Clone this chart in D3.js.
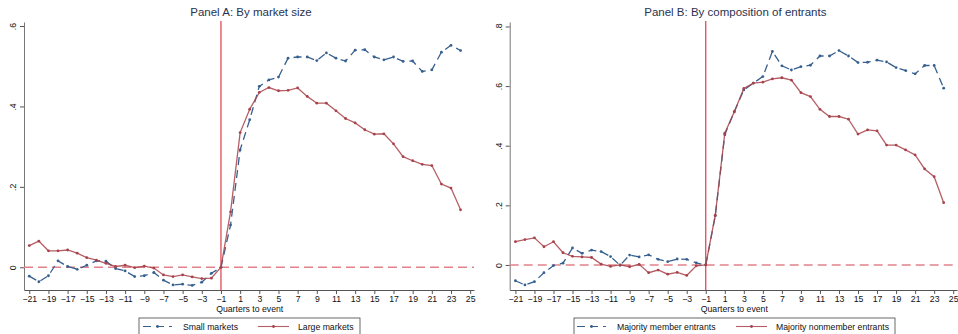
<!DOCTYPE html>
<html>
<head>
<meta charset="utf-8">
<script src="https://cdn.jsdelivr.net/npm/d3@7"></script>
<style>
  body { margin: 0; background: #fff; }
  svg { font-family: "Liberation Sans", Arial, sans-serif; }
</style>
</head>
<body>
<script>
// quarters relative to event
var quarters = d3.range(-21, 25);
var xTicks = d3.range(-21, 26, 2);

// Panel A: by market size
var smallMarkets = [-0.022, -0.036, -0.021, 0.016, 0.002, -0.005, 0.005, 0.016, 0.015, -0.003,
  -0.009, -0.023, -0.021, -0.013, -0.032, -0.044, -0.042, -0.045, -0.037, -0.015,
  0, 0.105, 0.292, 0.367, 0.45, 0.466, 0.473, 0.52, 0.523, 0.523,
  0.514, 0.533, 0.52, 0.513, 0.54, 0.541, 0.523, 0.516, 0.523, 0.512,
  0.513, 0.487, 0.491, 0.535, 0.552, 0.539];
var largeMarkets = [0.054, 0.065, 0.041, 0.041, 0.043, 0.035, 0.024, 0.018, 0.01, 0.002,
  0.005, -0.001, 0.003, -0.002, -0.019, -0.023, -0.019, -0.024, -0.028, -0.027,
  0, 0.138, 0.335, 0.393, 0.435, 0.447, 0.439, 0.44, 0.446, 0.425,
  0.408, 0.408, 0.389, 0.37, 0.359, 0.342, 0.331, 0.332, 0.307, 0.275,
  0.265, 0.256, 0.253, 0.207, 0.197, 0.143];
var yTicksA = [0, 0.2, 0.4, 0.6];

// Panel B: by composition of entrants
var memberEntrants = [-0.053, -0.067, -0.056, -0.026, -0.002, 0.006, 0.057, 0.039, 0.05, 0.045,
  0.028, -0.001, 0.033, 0.027, 0.034, 0.019, 0.011, 0.02, 0.019, 0.007,
  0, 0.165, 0.437, 0.514, 0.587, 0.61, 0.632, 0.716, 0.668, 0.654,
  0.665, 0.67, 0.701, 0.701, 0.719, 0.701, 0.679, 0.68, 0.687, 0.681,
  0.662, 0.652, 0.641, 0.669, 0.669, 0.593];
var nonmemberEntrants = [0.078, 0.085, 0.091, 0.061, 0.078, 0.041, 0.029, 0.027, 0.025, 0.003,
  -0.005, 0, -0.006, 0.002, -0.026, -0.017, -0.031, -0.025, -0.035, -0.003,
  0, 0.167, 0.442, 0.514, 0.592, 0.61, 0.613, 0.624, 0.628, 0.62,
  0.578, 0.565, 0.522, 0.498, 0.498, 0.489, 0.439, 0.453, 0.45, 0.402,
  0.402, 0.386, 0.369, 0.322, 0.296, 0.209];
var yTicksB = [0, 0.2, 0.4, 0.6, 0.8];

var blue = "#37608f", red = "#a8424a";

var panels = [
  {title: "Panel A: By market size", left: 24, right: 474, xDom: [-21.55, 25.4], yDom: [-0.0565, 0.61],
   yTicks: yTicksA, series: [smallMarkets, largeMarkets], names: ["Small markets", "Large markets"],
   legend: {x: 139, w: 221, s1: 143, t1: 183, s2: 258, t2: 298}},
  {title: "Panel B: By composition of entrants", left: 509.7, right: 957, xDom: [-21.6, 25.4], yDom: [-0.084, 0.815],
   yTicks: yTicksB, series: [memberEntrants, nonmemberEntrants], names: ["Majority member entrants", "Majority nonmember entrants"],
   legend: {x: 574, w: 321, s1: 577, t1: 617, s2: 736, t2: 776}}
];

var plotTop = 22, plotBottom = 290;

var svg = d3.select("body").append("svg")
  .attr("width", 958).attr("height", 334);

var fmt = function(d) { return d === 0 ? "0" : d3.format(".1f")(d).replace(/^0/, ""); };

panels.forEach(function(p) {
  var x = d3.scaleLinear().domain(p.xDom).range([p.left, p.right]);
  var y = d3.scaleLinear().domain(p.yDom).range([plotBottom, plotTop]);
  var g = svg.append("g");

  // title
  g.append("text")
    .attr("x", (p.left + p.right) / 2 + 2).attr("y", 16)
    .attr("text-anchor", "middle").attr("font-size", 11.5).attr("fill", "#2a3350")
    .text(p.title);

  // axes
  var xa = g.append("g").attr("transform", "translate(0," + plotBottom + ")")
    .call(d3.axisBottom(x).tickValues(xTicks).tickSize(4).tickSizeOuter(0).tickFormat(d3.format("d")));
  xa.select(".domain").attr("stroke", "#555");
  xa.selectAll(".tick line").attr("stroke", "#555");
  xa.selectAll(".tick text").attr("font-size", 8.7).attr("fill", "#111").attr("y", 6);

  var ya = g.append("g").attr("transform", "translate(" + p.left + ",0)")
    .call(d3.axisLeft(y).tickValues(p.yTicks).tickSize(4).tickSizeOuter(0).tickFormat(fmt));
  ya.select(".domain").attr("stroke", "#777");
  ya.selectAll(".tick line").attr("stroke", "#555");
  ya.selectAll(".tick text").attr("font-size", 8.7).attr("fill", "#111")
    .attr("x", null).attr("dy", null)
    .attr("transform", "translate(-8,0) rotate(-90)")
    .attr("text-anchor", "middle");

  g.append("text")
    .attr("x", x(2)).attr("y", 312)
    .attr("text-anchor", "middle").attr("font-size", 8.7).attr("fill", "#111")
    .text("Quarters to event");

  // reference lines
  g.append("line")
    .attr("x1", p.left).attr("x2", p.right).attr("y1", y(0)).attr("y2", y(0))
    .attr("stroke", "#e2828c").attr("stroke-width", 1.5).attr("stroke-dasharray", "9,5");
  g.append("line")
    .attr("x1", x(-1)).attr("x2", x(-1)).attr("y1", plotTop - 1).attr("y2", plotBottom)
    .attr("stroke", "#e03a48").attr("stroke-width", 1.2);

  var line = d3.line().x(function(d, i) { return x(quarters[i]); }).y(function(d) { return y(d); });

  // blue dashed series
  g.append("path").datum(p.series[0])
    .attr("d", line).attr("fill", "none").attr("stroke", blue)
    .attr("stroke-width", 1.3).attr("stroke-dasharray", "8,5");
  g.selectAll(".dotb").data(p.series[0]).enter().append("circle")
    .attr("cx", function(d, i) { return x(quarters[i]); }).attr("cy", function(d) { return y(d); })
    .attr("r", 1.4).attr("fill", blue);

  // red solid series
  g.append("path").datum(p.series[1])
    .attr("d", line).attr("fill", "none").attr("stroke", red)
    .attr("stroke-width", 1.3).attr("stroke-opacity", 0.85);
  g.selectAll(".dotr").data(p.series[1]).enter().append("circle")
    .attr("cx", function(d, i) { return x(quarters[i]); }).attr("cy", function(d) { return y(d); })
    .attr("r", 1.4).attr("fill", red);

  // legend
  var L = p.legend, ly = 326.5;
  g.append("rect").attr("x", L.x).attr("y", 318).attr("width", L.w).attr("height", 18)
    .attr("fill", "#fff").attr("stroke", "#444").attr("stroke-width", 0.8);
  g.append("line").attr("x1", L.s1).attr("x2", L.s1 + 29).attr("y1", ly).attr("y2", ly)
    .attr("stroke", blue).attr("stroke-width", 1.1).attr("stroke-dasharray", "8,5");
  g.append("circle").attr("cx", L.s1 + 14.5).attr("cy", ly).attr("r", 1.4).attr("fill", blue);
  g.append("text").attr("x", L.t1).attr("y", ly + 3).attr("font-size", 8.7).attr("fill", "#111").text(p.names[0]);
  g.append("line").attr("x1", L.s2).attr("x2", L.s2 + 31).attr("y1", ly).attr("y2", ly)
    .attr("stroke", red).attr("stroke-width", 1.1).attr("stroke-opacity", 0.85);
  g.append("circle").attr("cx", L.s2 + 15.5).attr("cy", ly).attr("r", 1.4).attr("fill", red);
  g.append("text").attr("x", L.t2).attr("y", ly + 3).attr("font-size", 8.7).attr("fill", "#111").text(p.names[1]);
});
</script>
</body>
</html>
